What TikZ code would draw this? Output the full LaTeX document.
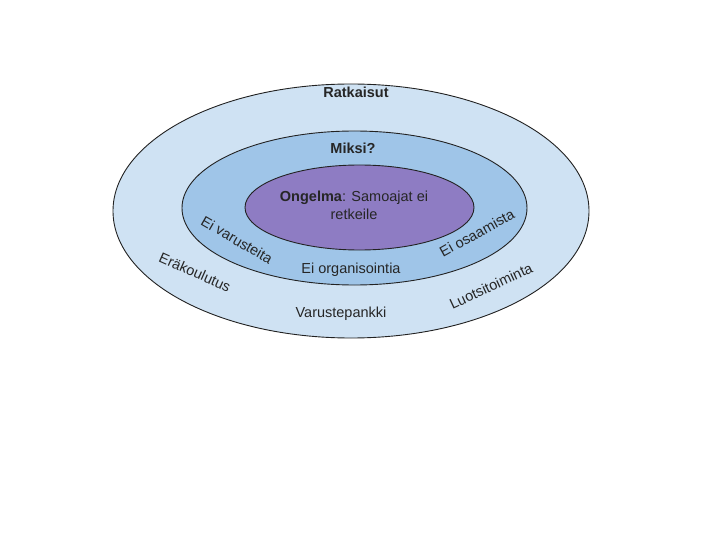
\documentclass[tikz,border=0pt]{standalone}
\usepackage{fontspec}
\setmainfont{Liberation Sans}
\usetikzlibrary{shapes.geometric}
\definecolor{outerc}{HTML}{CFE2F3}
\definecolor{midc}{HTML}{9FC5E8}
\definecolor{innerc}{HTML}{8E7CC3}
\definecolor{linec}{HTML}{222222}
\begin{document}
\begin{tikzpicture}[x=1pt,y=-1pt,
  ring/.style={ellipse, draw=linec, line width=0.9pt, inner sep=0pt},
  lbl/.style={font=\fontsize{14.5}{18}\selectfont, text=black!85, inner sep=0pt, align=center}]
\useasboundingbox (0,0) rectangle (720,540);
\fill[white] (0,0) rectangle (720,540);
\node[ring, fill=outerc, minimum width=476pt, minimum height=254pt] (outer) at (351,211) {};
\node[ring, fill=midc, minimum width=345pt, minimum height=154pt] (mid) at (354.5,208) {};
\node[ring, fill=innerc, minimum width=229pt, minimum height=85pt] (inner) at (359.5,207.5) {};
\node[lbl, font=\fontsize{14.5}{18}\selectfont\bfseries] (rat) at (356,92) {Ratkaisut};
\node[lbl, font=\fontsize{14.5}{18}\selectfont\bfseries] (mik) at (353,148) {Miksi?};
\node[lbl] (ong) at (354,205) {\textbf{Ongelma}: Samoajat ei\\retkeile};
\node[lbl] (org) at (351,270) {Ei organisointia};
\node[lbl] (var) at (341,314) {Varustepankki};
\node[lbl, rotate=-30] (eiv) at (237,240) {Ei varusteita};
\node[lbl, rotate=-24] (era) at (195,272) {Eräkoulutus};
\node[lbl, rotate=29] (eio) at (477,233) {Ei osaamista};
\node[lbl, rotate=25] (luo) at (491,286) {Luotsitoiminta};
\end{tikzpicture}
\end{document}
